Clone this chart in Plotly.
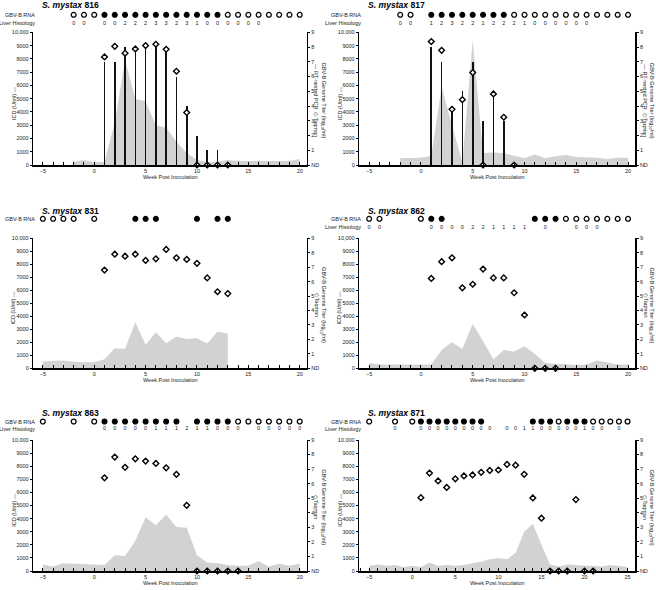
import plotly.graph_objects as go

W, H = 656, 590

# ---------------- data ----------------
# S. mystax 816
icd_wk_816 = [-2, -1, 0, 1, 2, 3, 4, 5, 6, 7, 8, 9, 10, 11, 12, 13, 14, 15, 16, 17, 18, 19, 20]
icd_816 = [250, 380, 200, 250, 3200, 7900, 5000, 4800, 3000, 2800, 1750, 900, 400, 200, 250, 380, 300, 300, 300, 300, 300, 300, 450]
pcr_wk_816 = [1, 2, 3, 4, 5, 6, 7, 8, 9, 10, 11, 12]
pcr_816 = [7, 7, 8, 8, 8, 8, 8, 6, 4, 2, 1, 1]
tq_wk_816 = [1, 2, 3, 4, 5, 6, 7, 8, 9, 10, 11, 12, 13]
tq_816 = [7.33, 8.05, 7.58, 7.87, 8.1, 8.19, 7.85, 6.36, 3.56, 0, 0, 0, 0]
rna_wk_816 = [-2, -1, 0, 1, 2, 3, 4, 5, 6, 7, 8, 9, 10, 11, 12, 13, 14, 15, 16, 17, 18, 19, 20]
rna_816 = [0, 0, 0, 1, 1, 1, 1, 1, 1, 1, 1, 1, 1, 1, 1, 0, 0, 0, 0, 0, 0, 0, 0]
hist_wk_816 = [-2, -1, 1, 2, 3, 4, 5, 6, 7, 8, 9, 10, 11, 12, 13, 14, 15, 16]
hist_816 = [0, 0, 0, 0, 2, 2, 2, 3, 3, 2, 3, 1, 0, 0, 0, 0, 0, 0]

# S. mystax 817
icd_wk_817 = [-2, -1, 0, 1, 2, 3, 4, 5, 6, 7, 8, 9, 10, 11, 12, 13, 14, 15, 16, 17, 18, 19, 20]
icd_817 = [500, 500, 550, 700, 5900, 3000, 200, 9400, 900, 950, 900, 700, 500, 800, 500, 650, 750, 600, 600, 550, 450, 550, 550]
pcr_wk_817 = [1, 2, 3, 4, 5, 6, 7, 8]
pcr_817 = [8, 7, 4, 5, 7, 3, 5, 3]
tq_wk_817 = [1, 2, 3, 4, 5, 6, 7, 8, 9]
tq_817 = [8.37, 7.78, 3.78, 4.43, 6.27, 0, 4.82, 3.24, 0]
rna_wk_817 = [-2, -1, 1, 2, 3, 4, 5, 6, 7, 8, 9, 10, 11, 12, 13, 14, 15, 16, 17, 18, 19, 20]
rna_817 = [0, 0, 1, 1, 1, 1, 1, 1, 1, 1, 0, 0, 0, 0, 0, 0, 0, 0, 0, 0, 0, 0]
hist_wk_817 = [-2, -1, 1, 2, 3, 4, 5, 6, 7, 8, 9, 10, 11, 12, 13, 14, 15, 16]
hist_817 = [0, 0, 1, 2, 3, 2, 2, 1, 2, 2, 2, 1, 0, 0, 0, 0, 0, 0]

# S. mystax 831
icd_wk_831 = [-5, -4, -3, -2, -1, 0, 1, 2, 3, 4, 5, 6, 7, 8, 9, 10, 11, 12, 13]
icd_831 = [510, 590, 600, 500, 460, 460, 690, 1540, 1510, 3540, 1800, 2770, 1920, 2440, 2260, 2310, 1900, 2820, 2670]
tq_wk_831 = [1, 2, 3, 4, 5, 6, 7, 8, 9, 10, 11, 12, 13]
tq_831 = [6.8, 7.9, 7.76, 7.9, 7.47, 7.58, 8.23, 7.65, 7.54, 7.27, 6.26, 5.3, 5.17]
rna_wk_831 = [-5, -4, -3, -2, 0, 4, 5, 6, 10, 12, 13]
rna_831 = [0, 0, 0, 0, 0, 1, 1, 1, 1, 1, 1]

# S. mystax 862
icd_wk_862 = [-5, -4, -3, -2, -1, 0, 1, 2, 3, 4, 5, 6, 7, 8, 9, 10, 11, 12, 13, 14, 15, 16, 17, 18, 19, 20]
icd_862 = [400, 300, None, None, None, 300, 300, 1400, 2000, 1500, 3400, 2100, 700, 1400, 1300, 1700, 1100, 400, 350, 350, 250, 300, 600, 450, 300, 300]
tq_wk_862 = [1, 2, 3, 4, 5, 6, 7, 8, 9, 10, 11, 12, 13]
tq_862 = [6.22, 7.38, 7.65, 5.57, 5.82, 6.87, 6.26, 6.26, 5.23, 3.69, 0, 0, 0]
rna_wk_862 = [-5, -4, 0, 1, 2, 11, 12, 13, 14, 15, 16, 17, 18, 19, 20]
rna_862 = [0, 0, 0, 1, 1, 1, 1, 1, 0, 0, 0, 0, 0, 0, 0]
hist_wk_862 = [-5, -4, 1, 2, 3, 4, 5, 6, 7, 8, 9, 10, 12, 15, 16, 17]
hist_862 = [0, 0, 0, 0, 0, 0, 2, 2, 1, 1, 1, 1, 0, 0, 0, 0]

# S. mystax 863
icd_wk_863 = [-5, -4, -3, -2, -1, 0, 1, 2, 3, 4, 5, 6, 7, 8, 9, 10, 11, 12, 13, 14, 15, 16, 17, 18, 19, 20]
icd_863 = [500, 350, 600, 550, 500, 450, 450, 1200, 1150, 2300, 4100, 3500, 4300, 3350, 3300, 1200, 650, 600, 450, 400, 400, 750, 350, 550, 400, 550]
tq_wk_863 = [1, 2, 3, 4, 5, 6, 7, 8, 9, 10, 11, 12, 13, 14]
tq_863 = [6.4, 7.83, 7.12, 7.71, 7.55, 7.39, 7.09, 6.64, 4.51, 0, 0, 0, 0, 0]
rna_wk_863 = [-5, -2, 0, 1, 2, 3, 4, 5, 6, 7, 8, 10, 11, 12, 13, 14, 15, 16, 17, 18, 19, 20]
rna_863 = [0, 0, 0, 1, 1, 1, 1, 1, 1, 1, 1, 1, 1, 1, 1, 0, 0, 0, 0, 0, 0, 0]
hist_wk_863 = [1, 2, 3, 4, 5, 6, 7, 8, 9, 10, 11, 12, 13, 14, 16, 17, 18, 19, 20]
hist_863 = [0, 0, 0, 0, 0, 1, 1, 1, 2, 1, 1, 0, 0, 0, 0, 0, 0, 0, 0]

# S. mystax 871
icd_wk_871 = [-5, -4, -3, -2, -1, 0, 1, 2, 3, 4, 5, 6, 7, 8, 9, 10, 11, 12, 13, 14, 15, 16, 17, 18, 19, 20, 21, 22, 23, 24, 25]
icd_871 = [400, 500, 400, 450, 300, 400, 300, 650, 400, 450, 400, 450, 600, 700, 900, 1000, 900, 1400, 3000, 3600, 2000, 500, 350, 500, 450, 400, 350, 350, 450, 350, 300]
tq_wk_871 = [1, 2, 3, 4, 5, 6, 7, 8, 9, 10, 11, 12, 13, 14, 15, 16, 17, 18, 19, 20, 21]
tq_871 = [5.04, 6.73, 6.19, 5.74, 6.33, 6.53, 6.6, 6.78, 6.91, 6.94, 7.32, 7.27, 6.64, 5.02, 3.63, 0, 0, 0, 4.91, 0, 0]
rna_wk_871 = [-5, -2, 0, 1, 2, 3, 4, 5, 6, 7, 8, 14, 15, 16, 17, 18, 19, 20, 21, 22, 23, 24, 25]
rna_871 = [0, 0, 0, 1, 1, 1, 1, 1, 1, 1, 1, 1, 1, 1, 0, 1, 1, 1, 0, 0, 0, 0, 0]
hist_wk_871 = [-2, 1, 2, 3, 4, 5, 6, 7, 8, 9, 11, 12, 13, 14, 15, 16, 17, 18, 19, 20, 21, 22, 24]
hist_871 = [0, 0, 0, 0, 0, 0, 0, 0, 0, 0, 0, 0, 1, 1, 0, 0, 0, 0, 0, 1, 0, 0, 0]

icd_ticks = [0, 1000, 2000, 3000, 4000, 5000, 6000, 7000, 8000, 9000, 10000]
icd_ticktext = ["0", "1000", "2000", "3000", "4000", "5000", "6000", "7000", "8000", "9000", "10,000"]
titer_ticks = [0, 1, 2, 3, 4, 5, 6, 7, 8, 9]
titer_ticktext = ["ND", "1", "2", "3", "4", "5", "6", "7", "8", "9"]

# ---------------- layout geometry ----------------
FONT = "Liberation Sans, Arial, Helvetica, sans-serif"
TXT = "#1a1a1a"
GREY = "#d2d2d2"
COLS = [(33.3, 306.7), (359.3, 635.3)]
ROWS = [(32.3, 165.0), (238.3, 368.3), (440.0, 571.0)]
HDR = [(17.5, 9.0), (19.5, 11.0), (18.5, 11.0)]  # px above plot top: RNA row, histology row

panels = [
    dict(name="816", icd_wk=icd_wk_816, icd=icd_816, pcr_wk=pcr_wk_816, pcr=pcr_816,
         tq_wk=tq_wk_816, tq=tq_816, rna_wk=rna_wk_816, rna=rna_816,
         hist_wk=hist_wk_816, hist=hist_816, col=0, row=0, xr=(-5.93, 20.68)),
    dict(name="817", icd_wk=icd_wk_817, icd=icd_817, pcr_wk=pcr_wk_817, pcr=pcr_817,
         tq_wk=tq_wk_817, tq=tq_817, rna_wk=rna_wk_817, rna=rna_817,
         hist_wk=hist_wk_817, hist=hist_817, col=1, row=0, xr=(-5.95, 20.7)),
    dict(name="831", icd_wk=icd_wk_831, icd=icd_831, pcr_wk=None, pcr=None,
         tq_wk=tq_wk_831, tq=tq_831, rna_wk=rna_wk_831, rna=rna_831,
         hist_wk=None, hist=None, col=0, row=1, xr=(-5.93, 20.68)),
    dict(name="862", icd_wk=icd_wk_862, icd=icd_862, pcr_wk=None, pcr=None,
         tq_wk=tq_wk_862, tq=tq_862, rna_wk=rna_wk_862, rna=rna_862,
         hist_wk=hist_wk_862, hist=hist_862, col=1, row=1, xr=(-5.95, 20.7)),
    dict(name="863", icd_wk=icd_wk_863, icd=icd_863, pcr_wk=None, pcr=None,
         tq_wk=tq_wk_863, tq=tq_863, rna_wk=rna_wk_863, rna=rna_863,
         hist_wk=hist_wk_863, hist=hist_863, col=0, row=2, xr=(-5.93, 20.68)),
    dict(name="871", icd_wk=icd_wk_871, icd=icd_871, pcr_wk=None, pcr=None,
         tq_wk=tq_wk_871, tq=tq_871, rna_wk=rna_wk_871, rna=rna_871,
         hist_wk=hist_wk_871, hist=hist_871, col=1, row=2, xr=(-6.15, 25.9)),
]


def px_x(v):
    return v / W


def px_y(v):
    return 1 - v / H


fig = go.Figure()
layout = dict(width=W, height=H, margin=dict(l=0, r=0, t=0, b=0, autoexpand=False),
              paper_bgcolor="white", plot_bgcolor="rgba(0,0,0,0)",
              showlegend=False, font=dict(family=FONT, color=TXT, size=6),
              bargap=0, hovermode=False)
annotations = []
tickfont = dict(family=FONT, size=5.5, color=TXT)

for p, P in enumerate(panels):
    xi = p + 1
    yl, yr, yh = 3 * p + 1, 3 * p + 2, 3 * p + 3
    xn = "x" if xi == 1 else f"x{xi}"
    yln = "y" if yl == 1 else f"y{yl}"
    yrn, yhn = f"y{yr}", f"y{yh}"
    xk = "xaxis" if xi == 1 else f"xaxis{xi}"
    ylk = "yaxis" if yl == 1 else f"yaxis{yl}"
    x0, x1 = COLS[P["col"]]
    top, bot = ROWS[P["row"]]
    rna_off, hist_off = HDR[P["row"]]

    layout[xk] = dict(domain=[px_x(x0), px_x(x1)], anchor=yln, range=list(P["xr"]),
                      showline=True, linecolor="black", linewidth=1.5,
                      showgrid=False, zeroline=False, tick0=0, dtick=5,
                      ticks="inside", ticklen=3, tickwidth=1, tickcolor="black",
                      minor=dict(dtick=1, tick0=0, ticks="inside", ticklen=3, tickwidth=1, tickcolor="black"),
                      tickfont=tickfont, ticklabelstandoff=0)
    layout[ylk] = dict(domain=[px_y(bot), px_y(top)], anchor=xn, range=[0, 10000],
                       showline=True, linecolor="black", linewidth=1.5,
                       showgrid=False, zeroline=False, tickvals=icd_ticks, ticktext=icd_ticktext,
                       ticks="outside", ticklen=2, tickwidth=1, tickcolor="black", tickfont=tickfont)
    layout[f"yaxis{yr}"] = dict(domain=[px_y(bot), px_y(top)], anchor=xn, overlaying=yln, side="right",
                                range=[0, 9], showline=True, linecolor="black", linewidth=1.5,
                                showgrid=False, zeroline=False, tickvals=titer_ticks, ticktext=titer_ticktext,
                                ticks="outside", ticklen=2, tickwidth=1, tickcolor="black", tickfont=tickfont)
    layout[f"yaxis{yh}"] = dict(domain=[px_y(top), px_y(top - 28)], anchor=xn, range=[0, 28], visible=False)

    # ICD area
    fig.add_trace(go.Scatter(x=P["icd_wk"], y=P["icd"], mode="lines", fill="tozeroy",
                             fillcolor=GREY, line=dict(width=0, color=GREY), connectgaps=False,
                             xaxis=xn, yaxis=yln, hoverinfo="skip"))
    # RT-nested PCR
    if P["pcr"] is not None:
        fig.add_trace(go.Bar(x=P["pcr_wk"], y=P["pcr"], width=0.16, marker=dict(color="#111", line=dict(width=0)),
                             xaxis=xn, yaxis=yrn))
    # Taqman
    fig.add_trace(go.Scatter(x=P["tq_wk"], y=P["tq"], mode="markers", cliponaxis=False,
                             marker=dict(symbol="diamond", size=4.4, color="white", line=dict(color="black", width=1.4)),
                             xaxis=xn, yaxis=yrn))
    # GBV-B RNA row
    fig.add_trace(go.Scatter(x=P["rna_wk"], y=[rna_off] * len(P["rna_wk"]), mode="markers", cliponaxis=False,
                             marker=dict(symbol="circle", size=4.8,
                                         color=["black" if s else "white" for s in P["rna"]],
                                         line=dict(color="black", width=1.3)),
                             xaxis=xn, yaxis=yhn))
    annotations.append(dict(text="GBV-B RNA", xref="paper", yref=yhn, x=px_x(x0 + 4), y=rna_off,
                            xanchor="right", yanchor="middle", showarrow=False, font=dict(size=5.5)))
    if P["hist"] is not None:
        fig.add_trace(go.Scatter(x=P["hist_wk"], y=[hist_off] * len(P["hist_wk"]), mode="text",
                                 text=[str(v) for v in P["hist"]], cliponaxis=False,
                                 textfont=dict(size=5.5, color=TXT, family=FONT),
                                 xaxis=xn, yaxis=yhn))
        annotations.append(dict(text="Liver Histology", xref="paper", yref=yhn, x=px_x(x0 + 4), y=hist_off,
                                xanchor="right", yanchor="middle", showarrow=False, font=dict(size=5.5)))
    # title
    annotations.append(dict(text=f"<b><i>S. mystax</i> {P['name']}</b>", xref="paper", yref="paper",
                            x=px_x(x0 + 7), y=px_y(top - 27.5), xanchor="left", yanchor="middle",
                            showarrow=False, font=dict(size=8.6, color="black")))
    # x title
    annotations.append(dict(text="Week Post Inoculation", xref="paper", yref="paper",
                            x=px_x((x0 + x1) / 2), y=px_y(bot + 11.5), xanchor="center", yanchor="middle",
                            showarrow=False, font=dict(size=5.5)))
    # left title
    annotations.append(dict(text=f"ICD (U/ml) <span style='color:{GREY}'>▬</span>", xref="paper", yref="paper",
                            x=px_x(x0 - 20), y=px_y((top + bot) / 2 + 4), textangle=-90,
                            xanchor="center", yanchor="middle", showarrow=False, font=dict(size=5.5)))
    # right titles (rotated clockwise; first line outermost)
    annotations.append(dict(text="GBV-B Genome Titer (log<sub>10</sub>/ml)", xref="paper", yref="paper",
                            x=px_x(x1 + 16.5), y=px_y((top + bot) / 2 + 2), textangle=90,
                            xanchor="center", yanchor="middle", showarrow=False, font=dict(size=5.5)))
    second = "— RT-nested PCR  ◇Taqman" if P["pcr"] is not None else "◇Taqman"
    annotations.append(dict(text=second, xref="paper", yref="paper",
                            x=px_x(x1 + 10), y=px_y((top + bot) / 2 + 2), textangle=90,
                            xanchor="center", yanchor="middle", showarrow=False, font=dict(size=5.5)))

layout["annotations"] = annotations
fig.update_layout(**layout)
fig.write_html("out.html", config={"displayModeBar": False, "staticPlot": True},
               post_script="document.body.style.margin='0px';document.body.style.padding='0px';")
